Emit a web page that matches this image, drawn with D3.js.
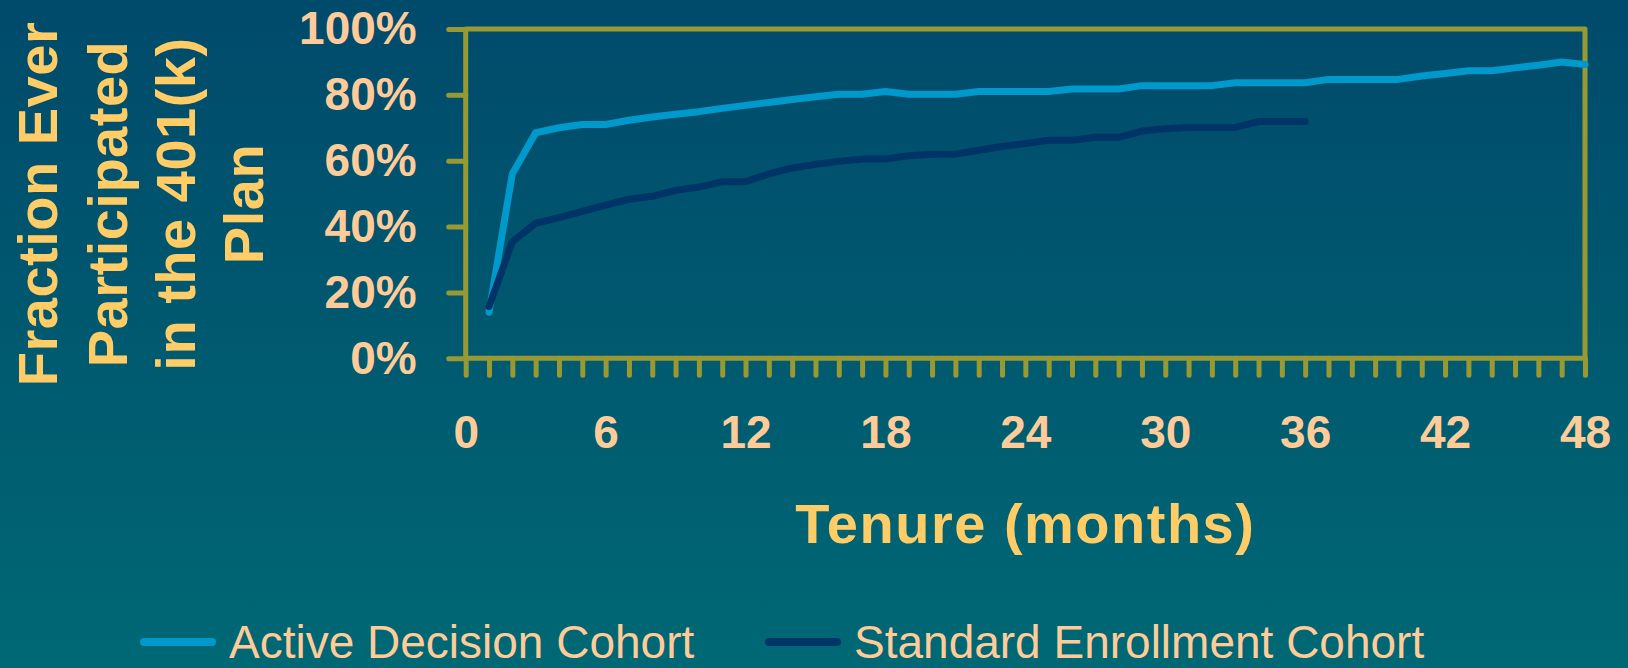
<!DOCTYPE html>
<html>
<head>
<meta charset="utf-8">
<script src="https://cdn.jsdelivr.net/npm/d3@7"></script>
<style>
  html, body { margin: 0; padding: 0; overflow: hidden; }
  svg { display: block; }
</style>
</head>
<body>
<svg id="chart" width="1628" height="668"></svg>
<script>
// ---- data ----
const seriesNames = ["Active Decision Cohort", "Standard Enrollment Cohort"];
const activeMonths = d3.range(1, 49);
const activeValues = [14, 56, 68.5, 70, 71, 71, 72.3, 73.3, 74.1, 74.9, 75.9, 76.8,
  77.7, 78.6, 79.4, 80.2, 80.2, 81, 80.2, 80.2, 80.2, 81, 81, 81,
  81, 81.8, 81.8, 81.8, 82.8, 82.8, 82.8, 82.8, 83.7, 83.7, 83.7, 83.7,
  84.7, 84.7, 84.7, 84.7, 85.7, 86.5, 87.3, 87.3, 88.2, 89, 90, 89.2];
const standardMonths = d3.range(1, 37);
const standardValues = [15.7, 35.4, 41, 42.7, 44.6, 46.5, 48.3, 49.2, 51, 52, 53.6, 53.6,
  56, 57.8, 58.9, 59.8, 60.5, 60.5, 61.5, 62, 62, 63.2, 64.3, 65.2,
  66.2, 66.2, 67.1, 67.1, 69, 69.7, 70.1, 70.1, 70.1, 71.9, 71.9, 71.9];
const yTicks = [0, 20, 40, 60, 80, 100];
const xTicks = d3.range(0, 49);
const xLabelEvery = 6;
const xTitle = "Tenure (months)";
const yTitleLines = ["Fraction Ever", "Participated", "in the 401(k)", "Plan"];

// ---- styles ----
const olive = "#999933";
const tickText = "#FFCC99";
const titleText = "#FFCC66";
const seriesColors = ["#0099CC", "#003366"];

const svg = d3.select("#chart");
const W = 1628, H = 668;

// background gradient
const defs = svg.append("defs");
const grad = defs.append("linearGradient").attr("id", "bg")
  .attr("x1", 0).attr("y1", 0).attr("x2", 0).attr("y2", 1);
grad.append("stop").attr("offset", "0%").attr("stop-color", "#004A6B");
grad.append("stop").attr("offset", "100%").attr("stop-color", "#006874");
svg.append("rect").attr("width", W).attr("height", H).attr("fill", "url(#bg)");

const x = d3.scaleLinear().domain([0, 48]).range([465.7, 1585]);
const y = d3.scaleLinear().domain([0, 100]).range([358.3, 29]);

// y axis
const yAxis = svg.append("g")
  .attr("transform", `translate(${x(0)},0)`)
  .call(d3.axisLeft(y).tickValues(yTicks).tickSize(17).tickPadding(32)
    .tickFormat(d => d + "%"));
yAxis.select(".domain").remove();
yAxis.selectAll(".tick line").attr("stroke", olive).attr("stroke-width", 5)
  .attr("stroke-linecap", "round");
yAxis.selectAll(".tick text")
  .attr("fill", tickText)
  .style("font-family", "'Liberation Sans', Arial, sans-serif")
  .style("font-weight", "bold")
  .style("font-size", "46px");

// x axis
const xAxis = svg.append("g")
  .attr("transform", `translate(0,${y(0)})`)
  .call(d3.axisBottom(x).tickValues(xTicks).tickSize(17).tickPadding(40)
    .tickFormat(d => d % xLabelEvery === 0 ? d : ""));
xAxis.select(".domain").remove();
xAxis.selectAll(".tick line").attr("stroke", olive).attr("stroke-width", 5)
  .attr("stroke-linecap", "round");
xAxis.selectAll(".tick text")
  .attr("fill", tickText)
  .style("font-family", "'Liberation Sans', Arial, sans-serif")
  .style("font-weight", "bold")
  .style("font-size", "46px");

// plot frame
svg.append("rect")
  .attr("x", x(0)).attr("y", y(100))
  .attr("width", x(48) - x(0)).attr("height", y(0) - y(100))
  .attr("fill", "none").attr("stroke", olive).attr("stroke-width", 5)
  .attr("stroke-linejoin", "round");

// lines
const line = d3.line().x(d => x(d[0])).y(d => y(d[1]));
const series = [
  activeMonths.map((m, i) => [m, activeValues[i]]),
  standardMonths.map((m, i) => [m, standardValues[i]])
];
series.forEach((s, i) => {
  svg.append("path").datum(s)
    .attr("d", line)
    .attr("fill", "none")
    .attr("stroke", seriesColors[i])
    .attr("stroke-width", 7)
    .attr("stroke-linecap", "round")
    .attr("stroke-linejoin", "round");
});

// x title
svg.append("text")
  .attr("x", (x(0) + x(48)) / 2)
  .attr("y", 543)
  .attr("text-anchor", "middle")
  .attr("fill", titleText)
  .style("font-family", "'Liberation Sans', Arial, sans-serif")
  .style("font-weight", "bold")
  .style("font-size", "56px")
  .style("letter-spacing", "1.5px")
  .text(xTitle);

// y title (rotated, multi-line)
const yBaselines = [57, 127, 195, 263];
yTitleLines.forEach((t, i) => {
  svg.append("text")
    .attr("transform", `translate(${yBaselines[i]},204) rotate(-90)`)
    .attr("text-anchor", "middle")
    .attr("fill", titleText)
    .style("font-family", "'Liberation Sans', Arial, sans-serif")
    .style("font-weight", "bold")
    .style("font-size", "56px")
    .style("letter-spacing", "0.5px")
    .text(t);
});

// legend
const legendX = [144, 769];
seriesNames.forEach((name, i) => {
  const g = svg.append("g").attr("transform", `translate(${legendX[i]},642)`);
  g.append("line").attr("x1", 0).attr("x2", 68).attr("y1", 0).attr("y2", 0)
    .attr("stroke", seriesColors[i]).attr("stroke-width", 8)
    .attr("stroke-linecap", "round");
  g.append("text").attr("x", 85).attr("y", 16)
    .attr("fill", tickText)
    .style("font-family", "'Liberation Sans', Arial, sans-serif")
    .style("font-size", "46px")
    .text(name);
});
</script>
</body>
</html>
